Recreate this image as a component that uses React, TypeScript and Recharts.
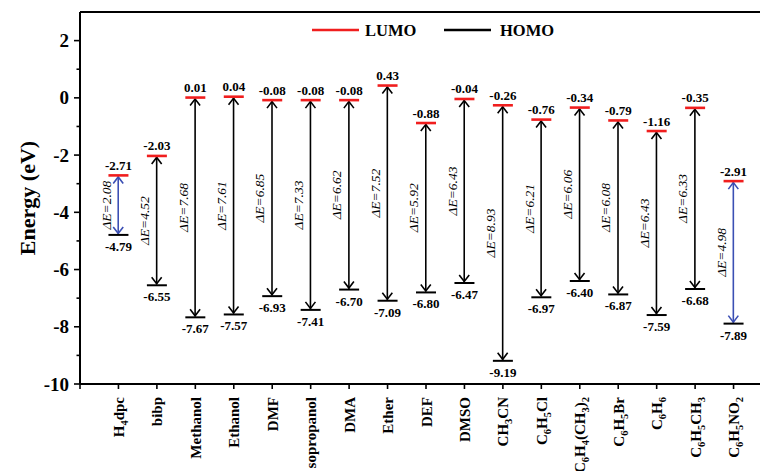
import React from 'react';
import { ComposedChart, XAxis, YAxis, Bar, Scatter, ReferenceLine } from 'recharts';

const solvents = [
  'H4dpc', 'bibp', 'Methanol', 'Ethanol', 'DMF', 'sopropanol', 'DMA', 'Ether', 'DEF',
  'DMSO', 'CH3CN', 'C6H5Cl', 'C6H4(CH3)2', 'C6H5Br', 'C6H6', 'C6H5CH3', 'C6H5NO2',
];
const lumo = [-2.71, -2.03, 0.01, 0.04, -0.08, -0.08, -0.08, 0.43, -0.88, -0.04, -0.26, -0.76, -0.34, -0.79, -1.16, -0.35, -2.91];
const homo = [-4.79, -6.55, -7.67, -7.57, -6.93, -7.41, -6.70, -7.09, -6.80, -6.47, -9.19, -6.97, -6.40, -6.87, -7.59, -6.68, -7.89];
// arrows drawn in blue instead of black
const highlighted = ['H4dpc', 'C6H5NO2'];
const positions = [0, 1, 2, 3, 4, 5, 6, 7, 8, 9, 10, 11, 12, 13, 14, 15, 16, 17];
const energyTicks = [-10, -9, -8, -7, -6, -5, -4, -3, -2, -1, 0, 1, 2];

const FONT = '"Liberation Serif", "Times New Roman", serif';
const RED = '#f01e1e';
const BLUE = '#3b4fb4';

const rows = solvents.map((name, i) => ({
  pos: i + 1,
  name,
  lumo: lumo[i],
  homo: homo[i],
  gap: [homo[i], lumo[i]],
}));

const EnergyTick = ({ x, y, payload }: any) => {
  const v = payload.value;
  const major = v % 2 === 0;
  const axisX = x + 11;
  return (
    <g>
      <line x1={axisX - (major ? 6 : 3.5)} x2={axisX} y1={y} y2={y} stroke="#000" strokeWidth={1.6} />
      {major && (
        <text x={x} y={y} dy="0.35em" textAnchor="end" fontFamily={FONT} fontWeight="bold" fontSize={19} fill="#000">
          {v}
        </text>
      )}
    </g>
  );
};

// rotated solvent names, digits set as subscripts
const SolventTick = ({ x, y, payload }: any) => {
  const name = solvents[payload.value - 1];
  if (!name) return null;
  const tx = x + 5.5;
  const parts = name.split(/(\d+)/).filter(Boolean);
  let lowered = false;
  return (
    <text
      x={tx}
      y={y}
      transform={`rotate(-90 ${tx} ${y})`}
      textAnchor="end"
      fontFamily={FONT}
      fontWeight="bold"
      fontSize={15}
      fill="#000"
    >
      {parts.map((p: string, i: number) => {
        if (/\d/.test(p)) {
          lowered = true;
          return (
            <tspan key={i} dy={4} fontSize={10.5}>
              {p}
            </tspan>
          );
        }
        const dy = lowered ? -4 : 0;
        lowered = false;
        return (
          <tspan key={i} dy={dy}>
            {p}
          </tspan>
        );
      })}
    </text>
  );
};

const LumoMark = ({ cx, cy, payload }: any) => (
  <g>
    <line x1={cx - 10} x2={cx + 10} y1={cy} y2={cy} stroke={RED} strokeWidth={2.6} />
    <text x={cx} y={cy - 5.5} textAnchor="middle" fontFamily={FONT} fontWeight="bold" fontSize={13} fill="#000">
      {payload.lumo.toFixed(2)}
    </text>
  </g>
);

const HomoMark = ({ cx, cy, payload }: any) => (
  <g>
    <line x1={cx - 10} x2={cx + 10} y1={cy} y2={cy} stroke="#000" strokeWidth={2} />
    <text x={cx} y={cy + 16} textAnchor="middle" fontFamily={FONT} fontWeight="bold" fontSize={13} fill="#000">
      {payload.homo.toFixed(2)}
    </text>
  </g>
);

// double-headed arrow spanning HOMO -> LUMO with the gap written beside it
const GapArrow = ({ x, y, width, height, payload }: any) => {
  const cx = x + width / 2;
  const top = Math.min(y, y + height);
  const bottom = Math.max(y, y + height);
  const color = highlighted.includes(payload.name) ? BLUE : '#000';
  const midY = (top + bottom) / 2;
  const lx = cx - 7.5;
  const gap = (payload.lumo - payload.homo).toFixed(2);
  return (
    <g>
      <line x1={cx} x2={cx} y1={top + 1} y2={bottom - 1} stroke={color} strokeWidth={1.6} />
      <polyline
        points={`${cx - 5},${top + 8} ${cx},${top + 1.5} ${cx + 5},${top + 8}`}
        fill="none"
        stroke={color}
        strokeWidth={1.6}
      />
      <polyline
        points={`${cx - 5},${bottom - 8} ${cx},${bottom - 1.5} ${cx + 5},${bottom - 8}`}
        fill="none"
        stroke={color}
        strokeWidth={1.6}
      />
      <text
        x={lx}
        y={midY}
        transform={`rotate(-90 ${lx} ${midY})`}
        textAnchor="middle"
        fontFamily={FONT}
        fontStyle="italic"
        fontSize={13.5}
        fill="#000"
      >
        ΔE={gap}
      </text>
    </g>
  );
};

export default function App() {
  return (
    <div style={{ position: 'relative', width: 760, height: 471, overflow: 'hidden', background: '#fff' }}>
      <style>{'body{margin:0;overflow:hidden}'}</style>
      <ComposedChart width={782} height={471} data={rows} margin={{ top: 12, right: 10, bottom: 0, left: 22 }}>
        <XAxis
          type="number"
          dataKey="pos"
          domain={[0, 18]}
          ticks={positions}
          interval={0}
          allowDataOverflow
          height={87}
          tickSize={5}
          tickMargin={8}
          tickLine={{ stroke: '#000', strokeWidth: 1.6 }}
          axisLine={{ stroke: '#000', strokeWidth: 2 }}
          tick={<SolventTick />}
        />
        <YAxis
          type="number"
          domain={[-10, 3]}
          ticks={energyTicks}
          interval={0}
          allowDataOverflow
          width={58}
          tickSize={6}
          tickMargin={5}
          tickLine={false}
          axisLine={{ stroke: '#000', strokeWidth: 2 }}
          tick={<EnergyTick />}
          label={{
            value: 'Energy (eV)',
            angle: -90,
            position: 'insideLeft',
            offset: 1,
            dx: 4,
            style: { textAnchor: 'middle', fontFamily: FONT, fontWeight: 'bold', fontSize: 22, fill: '#000' },
          }}
        />
        <ReferenceLine y={3} stroke="#000" strokeWidth={2} />
        <Bar dataKey="gap" barSize={20} isAnimationActive={false} shape={GapArrow} />
        <Scatter dataKey="lumo" isAnimationActive={false} shape={LumoMark} />
        <Scatter dataKey="homo" isAnimationActive={false} shape={HomoMark} />
      </ComposedChart>
      <svg style={{ position: 'absolute', left: 300, top: 18 }} width={270} height={24}>
        <line x1={12} x2={59} y1={12} y2={12} stroke={RED} strokeWidth={2.6} />
        <text x={65} y={18} fontFamily={FONT} fontWeight="bold" fontSize={16.5} fill="#000">
          LUMO
        </text>
        <line x1={144} x2={191} y1={12} y2={12} stroke="#000" strokeWidth={2.6} />
        <text x={200} y={18} fontFamily={FONT} fontWeight="bold" fontSize={16.5} fill="#000">
          HOMO
        </text>
      </svg>
    </div>
  );
}
